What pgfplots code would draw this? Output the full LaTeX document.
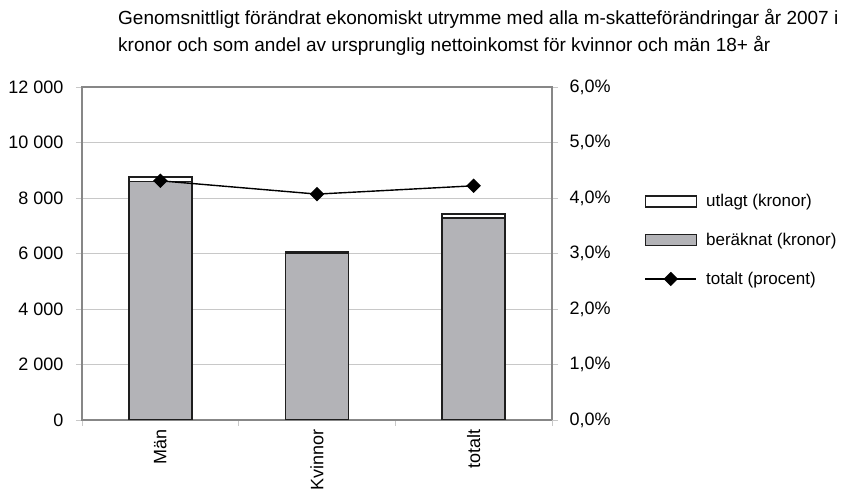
\documentclass[border=0pt]{standalone}
\usepackage{fontspec}
\setmainfont{Liberation Sans}
\usepackage{pgfplots}
\pgfplotsset{compat=1.18}
\definecolor{barGray}{RGB}{179,179,183}
\definecolor{barEdge}{RGB}{30,30,30}
\definecolor{axGray}{RGB}{135,135,135}
\definecolor{gridGray}{RGB}{200,200,200}
\newcommand{\chf}{\fontsize{17}{20}\selectfont}
\newcommand{\tkf}{\fontsize{18}{21}\selectfont}
\pgfplotsset{
  barlegend/.style={legend image code/.code={\draw[##1] (0pt,-5.5pt) rectangle (51pt,5.5pt);}},
  linelegend/.style={legend image code/.code={\draw[mark repeat=2,mark phase=2,##1] plot coordinates {(0pt,0pt) (25.5pt,0pt) (51pt,0pt)};}},
}
\begin{document}
\begin{tikzpicture}
\clip (0,0) rectangle (855pt,500pt);
\fill[white] (0,0) rectangle (855pt,500pt);
\node[anchor=north west, inner sep=0pt, align=left, font=\fontsize{19}{27}\selectfont] at (118pt,491pt)
  {Genomsnittligt förändrat ekonomiskt utrymme med alla m-skatteförändringar år 2007 i\\
   kronor och som andel av ursprunglig nettoinkomst för kvinnor och män 18+ år};
\begin{axis}[
  at={(82pt,80pt)}, anchor=south west,
  scale only axis, width=470pt, height=333pt,
  ybar stacked, bar width=63pt,
  xmin=-0.5, xmax=2.5, ymin=0, ymax=12000,
  ytick={0,2000,...,12000},
  scaled y ticks=false,
  xtick={0,1,2}, xticklabels={Män,Kvinnor,totalt},
  minor xtick={-0.5,0.5,1.5,2.5},
  major x tick style={draw=none},
  xticklabel style={rotate=90, anchor=east},
  ytick pos=left, xtick pos=bottom,
  tick align=outside,
  major tick length=6pt, minor tick length=6pt,
  tick style={gridGray, line width=0.8pt},
  axis line style={axGray, line width=1.3pt},
  ymajorgrids, grid style={gridGray, line width=0.8pt},
  /pgf/number format/assume math mode=true,
  /pgf/number format/1000 sep={\ },
  tick label style={font=\tkf},
  yticklabel style={xshift=-9pt},
]
\addplot[fill=barGray, draw=barEdge, line width=1.6pt] coordinates {(0,8590) (1,6020) (2,7280)};
\addplot[fill=white, draw=barEdge, line width=1.6pt] coordinates {(0,170) (1,55) (2,145)};
\end{axis}
\begin{axis}[
  at={(82pt,80pt)}, anchor=south west,
  scale only axis, width=470pt, height=333pt,
  xmin=-0.5, xmax=2.5, ymin=0, ymax=6,
  ytick={0,1,...,6},
  axis x line=none, axis y line*=right,
  tick align=outside,
  major tick length=6pt,
  tick style={gridGray, line width=0.8pt},
  axis line style={axGray, line width=1.3pt},
  yticklabel={\pgfmathprintnumber[fixed,fixed zerofill,precision=1,use comma,assume math mode=true]{\tick}\%},
  tick label style={font=\tkf},
  yticklabel style={xshift=8pt},
  legend style={draw=none, fill=none, font=\chf, at={(axis description cs:1.19,0.69)}, anchor=north west, row sep=21pt,
    /tikz/every odd column/.append style={column sep=7pt}},
  legend cell align=left,
]
\addlegendimage{barlegend, fill=white, draw=barEdge, line width=1.6pt}
\addlegendentry{utlagt (kronor)}
\addlegendimage{barlegend, fill=barGray, draw=barEdge, line width=1.6pt}
\addlegendentry{beräknat (kronor)}
\addplot[black, line width=1.4pt, mark=square*, mark size=4.4pt, mark options={rotate=45, solid}, linelegend]
  coordinates {(0,4.31) (1,4.07) (2,4.22)};
\addlegendentry{totalt (procent)}
\end{axis}
\end{tikzpicture}
\end{document}
